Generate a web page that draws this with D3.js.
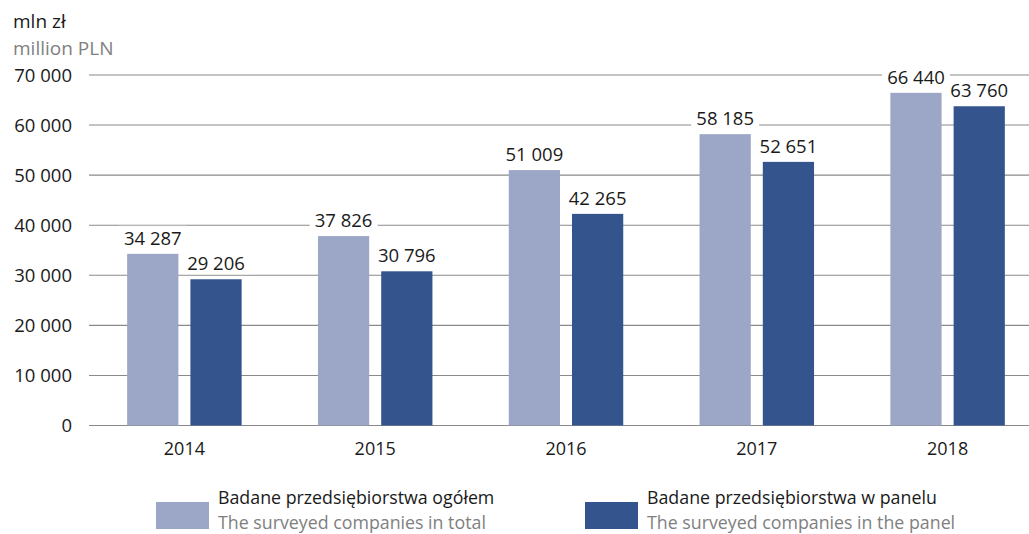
<!DOCTYPE html>
<html><head><meta charset="utf-8">
<script src="https://cdn.jsdelivr.net/npm/d3@7"></script>
<style>body{margin:0;background:#fff}svg{display:block}text{font-family:"Open Sans",sans-serif}</style>
</head><body><svg id="c" width="1029" height="534"></svg>
<script>
const years = ["2014","2015","2016","2017","2018"];
const seriesNames = ["Badane przedsiębiorstwa ogółem","Badane przedsiębiorstwa w panelu"];
const seriesNamesEn = ["The surveyed companies in total","The surveyed companies in the panel"];
const totalValues = [34287, 37826, 51009, 58185, 66440];
const panelValues = [29206, 30796, 42265, 52651, 63760];
const yTicks = [0,10000,20000,30000,40000,50000,60000,70000];
const colors = ["#9ca6c6","#34548e"];

const svg = d3.select("#c");
const fmt = v => d3.format(",")(v).replace(/,/g," ");
const y = d3.scaleLinear().domain([0,70000]).range([425.5,75]);
const x0 = d3.scaleBand().domain(years).range([89,1043]).paddingInner(0.4).paddingOuter(0.2);
const x1 = d3.scaleBand().domain([0,1]).range([0,x0.bandwidth()]).paddingInner(0.19);

svg.append("g").selectAll("line").data(yTicks).join("line")
  .attr("x1",89).attr("x2",1029).attr("y1",d=>y(d)).attr("y2",d=>y(d))
  .attr("stroke","#8a8a8a").attr("stroke-width",1.1);
svg.append("g").selectAll("text").data(yTicks).join("text")
  .attr("x",72).attr("y",d=>y(d)).attr("dy","0.36em").attr("text-anchor","end")
  .attr("font-size",18.5).attr("fill","#1a1a1a").text(d=>fmt(d));

svg.append("text").attr("x",13).attr("y",28).attr("font-size",19).attr("fill","#1a1a1a").text("mln zł");
svg.append("text").attr("x",13).attr("y",55).attr("font-size",19).attr("fill","#808080").text("million PLN");

const data = years.map((yr,i)=>({year:yr, vals:[totalValues[i], panelValues[i]]}));
const g = svg.append("g").selectAll("g").data(data).join("g")
  .attr("transform",d=>`translate(${x0(d.year)},0)`);
g.selectAll("rect").data(d=>d.vals.map((v,k)=>({v,k}))).join("rect")
  .attr("x",d=>x1(d.k)).attr("width",x1.bandwidth())
  .attr("y",d=>y(d.v)).attr("height",d=>y(0)-y(d.v))
  .attr("fill",d=>colors[d.k]);
const lab = g.selectAll("g.lab").data(d=>d.vals.map((v,k)=>({v,k}))).join("g").attr("class","lab");
lab.append("rect")
  .attr("x",d=>x1(d.k)+x1.bandwidth()/2-34).attr("width",68)
  .attr("y",d=>y(d.v)-28).attr("height",23).attr("fill","#fff");
lab.append("text")
  .attr("x",d=>x1(d.k)+x1.bandwidth()/2).attr("y",d=>y(d.v)-9)
  .attr("text-anchor","middle").attr("font-size",18.5).attr("fill","#1a1a1a")
  .text(d=>fmt(d.v));

svg.append("g").selectAll("text").data(years).join("text")
  .attr("x",d=>x0(d)+x0.bandwidth()/2).attr("y",455).attr("text-anchor","middle")
  .attr("font-size",18).attr("fill","#1a1a1a").text(d=>d);

const legX = [156,585];
const lg = svg.append("g").selectAll("g").data(seriesNames).join("g")
  .attr("transform",(d,i)=>`translate(${legX[i]},0)`);
lg.append("rect").attr("x",0).attr("y",502).attr("width",53).attr("height",27).attr("fill",(d,i)=>colors[i]);
lg.append("text").attr("x",62).attr("y",504).attr("font-size",17.8).attr("fill","#1a1a1a").text(d=>d);
lg.append("text").attr("x",62).attr("y",528.5).attr("font-size",17.8).attr("fill","#808080").text((d,i)=>seriesNamesEn[i]);
</script></body></html>
